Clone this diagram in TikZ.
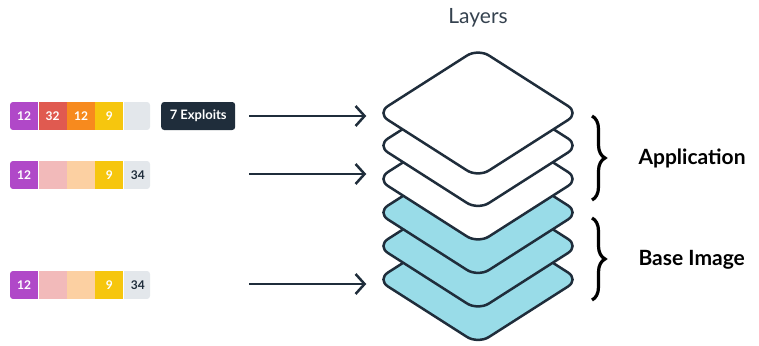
\documentclass[tikz,border=0pt]{standalone}
\usepackage{fontspec}
\setmainfont{Lato}
\usetikzlibrary{shapes.geometric, arrows.meta, positioning, decorations.pathreplacing}

\definecolor{navy}{HTML}{1F2D3B}
\definecolor{critical}{HTML}{B048C8}
\definecolor{high}{HTML}{E05A50}
\definecolor{medium}{HTML}{F78A1E}
\definecolor{low}{HTML}{F6C60E}
\definecolor{unknown}{HTML}{E3E7EB}
\definecolor{highpale}{HTML}{F2BABA}
\definecolor{mediumpale}{HTML}{FCD0A2}
\definecolor{basefill}{HTML}{99DCE8}

\tikzstyle{cell} = [rectangle, minimum width=28pt, minimum height=28pt, inner sep=0pt, text=white, font=\fontsize{12}{13}\selectfont\bfseries]
\tikzstyle{layer} = [diamond, minimum width=203pt, minimum height=130pt, inner sep=0pt, rounded corners=13pt, draw=navy, line width=2.5pt, fill=white]
\tikzstyle{baselayer} = [layer, fill=basefill]
\tikzstyle{arrow} = [line width=2.5pt, draw=navy, -{Straight Barb[length=9pt,width=20pt,line width=2.5pt]}, shorten >=9pt]
\tikzstyle{bracket} = [decorate, decoration={brace, amplitude=13pt}, line width=3.2pt, draw=black]
\tikzstyle{label} = [font=\fontsize{21}{24}\selectfont\bfseries, anchor=west]

\begin{document}
\begin{tikzpicture}[x=1pt, y=-1pt]
    \useasboundingbox (0,0) rectangle (759,345);

    % the stack, bottom first
    \node (l6) [baselayer] at (478,279.5) {};
    \node (l5) [baselayer] at (478,246) {};
    \node (l4) [baselayer] at (478,212.5) {};
    \node (l3) [layer] at (478,179) {};
    \node (l2) [layer] at (478,145.5) {};
    \node (l1) [layer] at (478,113) {};
    \node (title) at (478,18) {\fontsize{21}{24}\selectfont\color{navy!90}Layers};

    % vulnerability bars
    \begin{scope}
        \clip[rounded corners=3pt] (10,102) rectangle (150,130);
        \node (crit1) [cell, fill=critical, anchor=west] at (10,116) {12};
        \node (high1) [cell, fill=high, right=0pt of crit1] {32};
        \node (med1) [cell, fill=medium, right=0pt of high1] {12};
        \node (low1) [cell, fill=low, right=0pt of med1] {9};
        \node (unk1) [cell, fill=unknown, right=0pt of low1] {};
    \end{scope}
    \node (exploits) [rectangle, rounded corners=3pt, fill=navy, text=white, minimum width=74pt, minimum height=28pt, font=\fontsize{13}{15}\selectfont\bfseries, right=9pt of unk1] {7 Exploits};

    \begin{scope}
        \clip[rounded corners=3pt] (10,161) rectangle (150,189);
        \node (crit2) [cell, fill=critical, anchor=west] at (10,175) {12};
        \node (high2) [cell, fill=highpale, right=0pt of crit2] {};
        \node (med2) [cell, fill=mediumpale, right=0pt of high2] {};
        \node (low2) [cell, fill=low, right=0pt of med2] {9};
        \node (unk2) [cell, fill=unknown, text=navy, right=0pt of low2] {34};
    \end{scope}

    \begin{scope}
        \clip[rounded corners=3pt] (10,271) rectangle (150,299);
        \node (crit3) [cell, fill=critical, anchor=west] at (10,285) {12};
        \node (high3) [cell, fill=highpale, right=0pt of crit3] {};
        \node (med3) [cell, fill=mediumpale, right=0pt of high3] {};
        \node (low3) [cell, fill=low, right=0pt of med3] {9};
        \node (unk3) [cell, fill=unknown, text=navy, right=0pt of low3] {34};
    \end{scope}

    \coordinate (a1) at (249,116);
    \coordinate (a2) at (249,174);
    \coordinate (a3) at (249,284);
    \draw [arrow] (a1) -- (a1 -| l1.west);
    \draw [arrow] (a2) -- (a2 -| l3.west);
    \draw [arrow] (a3) -- (a3 -| l6.west);

    % groups
    \coordinate (apptop) at (592,116);
    \coordinate (appbot) at (592,200);
    \coordinate (basetop) at (592,218);
    \coordinate (basebot) at (592,300);
    \draw [bracket] (apptop) -- (appbot);
    \draw [bracket] (basetop) -- (basebot);
    \node (app) [label] at (635,158) {Application};
    \node (base) [label] at (635,260) {Base Image};
\end{tikzpicture}
\end{document}
